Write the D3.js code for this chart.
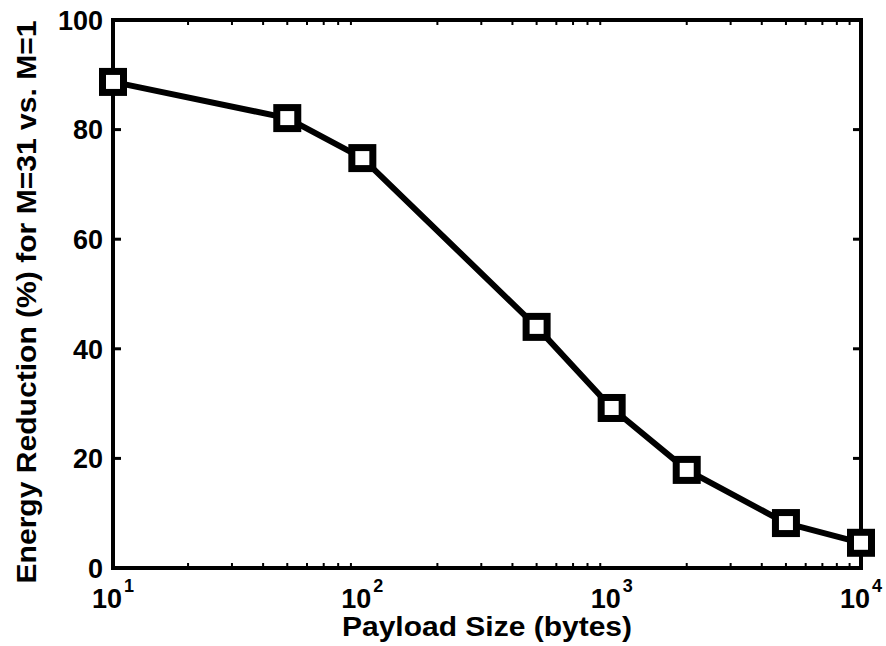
<!DOCTYPE html>
<html><head><meta charset="utf-8">
<script src="https://cdn.jsdelivr.net/npm/d3@7"></script>
<style>body{margin:0;background:#fff}text{font-family:"Liberation Sans",Arial,Helvetica,sans-serif;font-weight:bold;fill:#000}</style>
</head><body><svg id="c" width="886" height="646"></svg>
<script>
const payload = [10, 50, 100, 500, 1000, 2000, 5000, 10000];
const reduction = [88.7, 82.1, 74.8, 44.0, 29.2, 17.9, 8.2, 4.6];
const yTicks = [0, 20, 40, 60, 80, 100];
const xTickExps = [1, 2, 3, 4];
const xLabel = "Payload Size (bytes)";
const yLabel = "Energy Reduction (%) for M=31 vs. M=1";

const L = 113, R = 861, T = 20, B = 568;
const svg = d3.select("#c");
const x = d3.scaleLog().domain([10, 10000]).range([L, R]);
const y = d3.scaleLinear().domain([0, 100]).range([B, T]);

// minor ticks
const minor = [];
for (let e = 1; e < 4; e++) for (let m = 2; m <= 9; m++) minor.push(m * Math.pow(10, e));
const g = svg.append("g");
g.selectAll(".mb").data(minor).join("line").attr("x1", d => x(d)).attr("x2", d => x(d))
  .attr("y1", B).attr("y2", B - 5).attr("stroke", "#000").attr("stroke-width", 2);
g.selectAll(".mt").data(minor).join("line").attr("x1", d => x(d)).attr("x2", d => x(d))
  .attr("y1", T).attr("y2", T + 5).attr("stroke", "#000").attr("stroke-width", 2);
// major y ticks
g.selectAll(".yl").data(yTicks).join("line").attr("x1", L).attr("x2", L + 8)
  .attr("y1", d => y(d)).attr("y2", d => y(d)).attr("stroke", "#000").attr("stroke-width", 3);
g.selectAll(".yr").data(yTicks).join("line").attr("x1", R).attr("x2", R - 8)
  .attr("y1", d => y(d)).attr("y2", d => y(d)).attr("stroke", "#000").attr("stroke-width", 3);

// box
svg.append("rect").attr("x", L).attr("y", T).attr("width", R - L).attr("height", B - T)
  .attr("fill", "none").attr("stroke", "#000").attr("stroke-width", 4);

// y tick labels
svg.selectAll(".ytl").data(yTicks).join("text").attr("x", L - 10).attr("y", d => y(d))
  .attr("dy", "0.36em").attr("text-anchor", "end").attr("font-size", 27).text(d => d);

// x tick labels
const xt = svg.selectAll(".xtl").data(xTickExps).join("text")
  .attr("x", d => x(Math.pow(10, d))).attr("y", 608).attr("text-anchor", "middle").attr("font-size", 27);
xt.append("tspan").text("10");
xt.append("tspan").attr("font-size", 18).attr("dy", -16).attr("dx", 2).text(d => d);

// axis titles
svg.append("text").attr("x", (L + R) / 2).attr("y", 636).attr("text-anchor", "middle")
  .attr("font-size", 27).attr("textLength", 290).attr("lengthAdjust", "spacingAndGlyphs").text(xLabel);
svg.append("text").attr("transform", `translate(36,${(T + B) / 2 + 8}) rotate(-90)`)
  .attr("text-anchor", "middle").attr("font-size", 27)
  .attr("textLength", 563).attr("lengthAdjust", "spacingAndGlyphs").text(yLabel);

// data line
const pts = payload.map((p, i) => [p, reduction[i]]);
svg.append("path").datum(pts).attr("fill", "none").attr("stroke", "#000").attr("stroke-width", 6)
  .attr("stroke-linejoin", "round")
  .attr("d", d3.line().x(d => x(d[0])).y(d => y(d[1])));
svg.selectAll(".mk").data(pts).join("rect")
  .attr("x", d => x(d[0]) - 10.5).attr("y", d => y(d[1]) - 10.5).attr("width", 21).attr("height", 21)
  .attr("fill", "#fff").attr("stroke", "#000").attr("stroke-width", 7);
</script></body></html>
